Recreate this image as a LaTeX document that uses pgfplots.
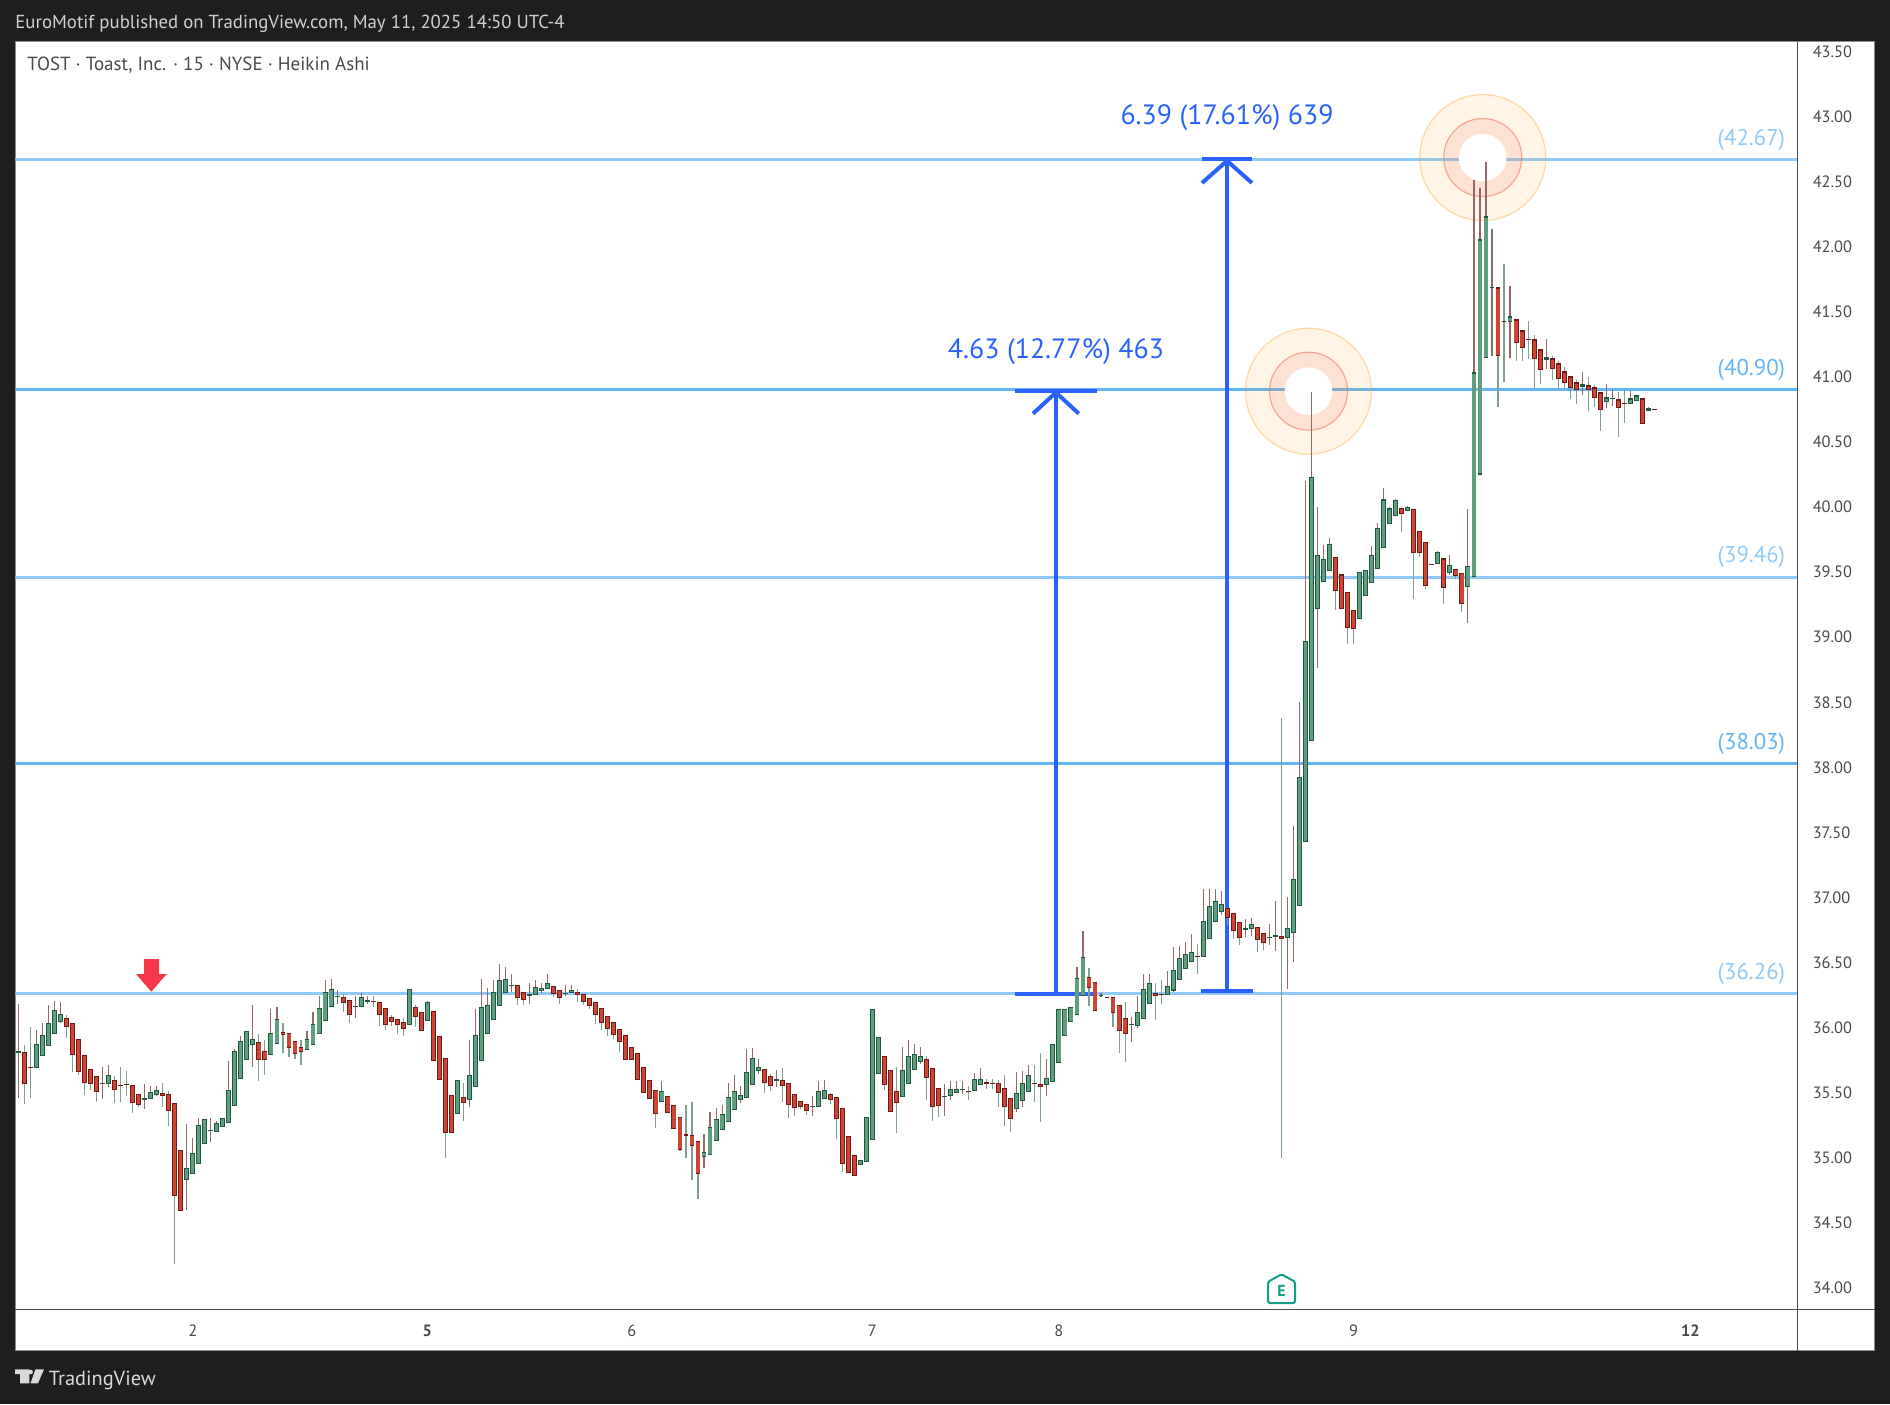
\documentclass[border=0pt]{standalone}
\usepackage{fontspec}
\setmainfont{PT Sans}
\usepackage{pgfplots}
\usepackage{pgfplotstable}
\pgfplotsset{compat=1.18}
\definecolor{bg}{HTML}{1E1E1E}
\definecolor{upF}{HTML}{5F9F7E}
\definecolor{upE}{HTML}{1F5A40}
\definecolor{dnF}{HTML}{CE4535}
\definecolor{dnE}{HTML}{701A14}
\definecolor{wickUp}{HTML}{946A68}
\definecolor{wickDn}{HTML}{7FA08F}
\definecolor{lnA}{HTML}{90CAF9}
\definecolor{lnB}{HTML}{64B5F6}
\definecolor{arrowb}{HTML}{2962FF}
\definecolor{lab}{HTML}{4A4A4A}
\definecolor{ringA}{HTML}{FF9800}
\definecolor{ringB}{HTML}{F0705A}
\definecolor{redsig}{HTML}{F7364A}
\definecolor{teal1}{HTML}{0F9F86}
\pgfplotstableread{
i c b t l h
0 1 35.805 35.822 35.459 36.183
1 0 35.566 35.815 35.413 35.871
2 0 35.688 35.696 35.459 36.009
3 1 35.692 35.876 35.692 35.986
4 1 35.781 35.945 35.781 36.040
5 1 35.861 36.037 35.861 36.171
6 1 35.953 36.137 35.953 36.209
7 1 36.045 36.107 36.035 36.194
8 0 36.007 36.076 35.920 36.101
9 0 35.792 36.037 35.659 36.037
10 0 35.661 35.915 35.633 35.915
11 0 35.577 35.792 35.482 35.792
12 0 35.569 35.684 35.520 35.684
13 0 35.508 35.630 35.428 35.630
14 1 35.565 35.573 35.451 35.702
15 1 35.569 35.638 35.543 35.710
16 0 35.523 35.600 35.420 35.630
17 0 35.555 35.563 35.428 35.702
18 0 35.557 35.565 35.474 35.664
19 0 35.420 35.561 35.344 35.561
20 0 35.405 35.492 35.390 35.492
21 1 35.444 35.462 35.374 35.569
22 1 35.454 35.508 35.454 35.556
23 1 35.485 35.523 35.474 35.556
24 0 35.474 35.500 35.390 35.579
25 0 35.362 35.492 35.244 35.515
26 0 34.709 35.423 34.184 35.423
27 0 34.594 35.062 34.594 35.062
28 1 34.832 34.924 34.599 35.257
29 1 34.878 35.039 34.878 35.149
30 1 34.955 35.254 34.955 35.303
31 1 35.108 35.300 35.108 35.300
32 1 35.204 35.212 35.121 35.303
33 1 35.200 35.269 35.200 35.280
34 1 35.239 35.308 35.239 35.308
35 1 35.269 35.523 35.269 35.748
36 1 35.400 35.822 35.400 35.833
37 1 35.607 35.899 35.607 35.940
38 1 35.753 35.976 35.753 35.976
39 1 35.869 35.915 35.697 36.178
40 0 35.753 35.892 35.589 35.948
41 0 35.753 35.822 35.636 35.909
42 1 35.792 35.961 35.792 36.140
43 1 35.876 36.068 35.876 36.163
44 0 35.945 35.968 35.805 36.040
45 0 35.845 35.961 35.774 35.961
46 0 35.799 35.899 35.758 35.899
47 0 35.815 35.853 35.712 35.909
48 1 35.830 35.915 35.830 35.971
49 1 35.869 36.030 35.869 36.117
50 1 35.953 36.153 35.953 36.247
51 1 36.053 36.276 36.053 36.370
52 1 36.160 36.299 36.160 36.378
53 1 36.233 36.241 36.186 36.293
54 0 36.191 36.237 36.117 36.260
55 0 36.099 36.214 36.040 36.214
56 1 36.156 36.164 36.071 36.247
57 1 36.160 36.237 36.160 36.270
58 1 36.199 36.214 36.186 36.240
59 0 36.196 36.206 36.163 36.247
60 0 36.099 36.199 36.017 36.199
61 0 36.022 36.153 35.979 36.153
62 0 36.045 36.084 36.017 36.101
63 0 36.022 36.068 35.948 36.068
64 0 35.991 36.045 35.940 36.078
65 1 36.022 36.299 36.022 36.299
66 0 36.084 36.160 36.009 36.171
67 0 35.976 36.122 35.976 36.122
68 1 36.053 36.199 36.053 36.209
69 0 35.746 36.130 35.746 36.130
70 0 35.600 35.938 35.600 35.938
71 0 35.193 35.769 34.998 35.769
72 0 35.193 35.485 35.193 35.485
73 1 35.339 35.600 35.339 35.600
74 0 35.423 35.469 35.280 35.579
75 1 35.446 35.638 35.390 35.902
76 1 35.546 35.945 35.546 36.140
77 1 35.746 36.160 35.746 36.378
78 1 35.953 36.176 35.953 36.309
79 1 36.061 36.276 36.061 36.370
80 1 36.168 36.368 36.168 36.493
81 1 36.268 36.375 36.268 36.470
82 1 36.320 36.328 36.278 36.409
83 0 36.229 36.329 36.171 36.329
84 0 36.214 36.276 36.178 36.276
85 1 36.245 36.260 36.186 36.347
86 1 36.253 36.314 36.253 36.363
87 1 36.283 36.306 36.263 36.340
88 1 36.299 36.345 36.299 36.409
89 0 36.260 36.322 36.235 36.322
90 0 36.229 36.291 36.186 36.291
91 1 36.259 36.267 36.247 36.332
92 1 36.268 36.291 36.268 36.332
93 0 36.253 36.276 36.201 36.301
94 0 36.199 36.260 36.171 36.260
95 0 36.168 36.229 36.140 36.229
96 0 36.099 36.199 36.032 36.199
97 0 36.037 36.153 35.986 36.153
98 0 35.991 36.091 35.933 36.091
99 0 35.945 36.045 35.912 36.045
100 0 35.889 35.991 35.810 35.991
101 0 35.753 35.945 35.753 35.945
102 0 35.753 35.853 35.753 35.853
103 0 35.600 35.807 35.600 35.807
104 0 35.500 35.700 35.500 35.700
105 0 35.454 35.600 35.454 35.600
106 0 35.339 35.523 35.229 35.523
107 1 35.431 35.515 35.431 35.587
108 0 35.346 35.477 35.346 35.477
109 0 35.223 35.408 35.223 35.408
110 0 35.062 35.316 35.052 35.316
111 0 35.170 35.185 34.998 35.410
112 0 35.093 35.177 34.829 35.426
113 0 34.878 35.131 34.683 35.131
114 1 35.008 35.047 34.921 35.180
115 1 35.024 35.239 35.024 35.349
116 1 35.131 35.300 35.131 35.380
117 1 35.216 35.339 35.216 35.410
118 1 35.277 35.469 35.277 35.579
119 1 35.369 35.515 35.369 35.633
120 1 35.446 35.485 35.420 35.549
121 1 35.462 35.661 35.462 35.840
122 1 35.561 35.769 35.561 35.848
123 1 35.669 35.700 35.643 35.756
124 0 35.577 35.684 35.497 35.684
125 0 35.554 35.630 35.513 35.641
126 1 35.592 35.607 35.543 35.679
127 0 35.554 35.600 35.428 35.687
128 0 35.408 35.577 35.305 35.577
129 0 35.385 35.492 35.321 35.492
130 0 35.392 35.438 35.374 35.438
131 0 35.362 35.415 35.328 35.415
132 1 35.388 35.396 35.321 35.472
133 1 35.392 35.515 35.392 35.587
134 1 35.454 35.523 35.454 35.602
135 0 35.446 35.492 35.413 35.502
136 0 35.300 35.469 35.144 35.469
137 0 34.955 35.385 34.891 35.385
138 0 34.885 35.170 34.885 35.170
139 0 34.862 35.024 34.862 35.024
140 1 34.947 34.985 34.947 34.985
141 1 34.970 35.316 34.970 35.316
142 1 35.139 36.145 35.139 36.145
143 1 35.646 35.930 35.646 35.930
144 0 35.561 35.784 35.525 35.784
145 0 35.354 35.677 35.354 35.677
146 0 35.423 35.515 35.190 35.700
147 1 35.469 35.677 35.469 35.853
148 1 35.569 35.784 35.569 35.902
149 1 35.677 35.799 35.677 35.876
150 1 35.738 35.784 35.720 35.853
151 0 35.615 35.761 35.444 35.784
152 0 35.392 35.692 35.282 35.692
153 0 35.400 35.538 35.313 35.538
154 1 35.470 35.478 35.321 35.569
155 1 35.477 35.531 35.444 35.587
156 1 35.497 35.531 35.497 35.587
157 1 35.519 35.527 35.490 35.587
158 0 35.509 35.517 35.444 35.556
159 1 35.515 35.607 35.515 35.656
160 1 35.561 35.607 35.561 35.687
161 0 35.566 35.584 35.528 35.607
162 0 35.570 35.578 35.528 35.607
163 0 35.500 35.577 35.390 35.600
164 0 35.392 35.538 35.244 35.638
165 0 35.300 35.462 35.198 35.462
166 1 35.377 35.500 35.351 35.656
167 1 35.438 35.577 35.390 35.669
168 1 35.508 35.638 35.508 35.715
169 0 35.565 35.573 35.428 35.715
170 0 35.546 35.569 35.275 35.802
171 1 35.561 35.615 35.474 35.756
172 1 35.584 35.876 35.584 35.876
173 1 35.730 36.145 35.730 36.145
174 1 35.938 36.145 35.938 36.145
175 1 36.045 36.160 36.045 36.160
176 1 36.099 36.383 36.099 36.470
177 1 36.245 36.544 36.245 36.741
178 0 36.306 36.391 36.165 36.462
179 0 36.130 36.352 36.130 36.352
180 1 36.241 36.249 36.235 36.263
181 0 36.228 36.236 36.228 36.236
182 0 36.114 36.237 36.009 36.237
183 0 35.976 36.176 35.805 36.176
184 0 35.953 36.076 35.735 36.199
185 1 36.018 36.026 35.889 36.086
186 1 36.012 36.122 35.999 36.247
187 1 36.068 36.299 36.068 36.409
188 1 36.183 36.345 36.183 36.416
189 0 36.245 36.268 36.063 36.345
190 0 36.249 36.257 36.186 36.363
191 1 36.253 36.322 36.253 36.432
192 1 36.285 36.444 36.272 36.623
193 1 36.367 36.536 36.367 36.631
194 1 36.452 36.567 36.452 36.662
195 1 36.506 36.582 36.506 36.723
196 0 36.540 36.548 36.411 36.646
197 1 36.544 36.820 36.544 37.069
198 1 36.682 36.936 36.682 37.069
199 1 36.810 36.974 36.810 37.069
200 1 36.889 36.951 36.869 37.053
201 0 36.843 36.920 36.792 36.920
202 0 36.744 36.882 36.680 36.882
203 0 36.690 36.813 36.634 36.813
204 1 36.749 36.767 36.695 36.838
205 1 36.756 36.797 36.708 36.846
206 0 36.672 36.774 36.580 36.774
207 0 36.649 36.728 36.595 36.728
208 1 36.691 36.699 36.633 36.800
209 1 36.697 36.713 36.592 36.976
210 0 36.679 36.705 34.997 38.379
211 1 36.690 36.766 36.295 37.007
212 1 36.726 37.141 36.503 37.553
213 1 36.935 37.926 36.935 38.499
214 1 37.426 38.969 37.426 40.203
215 1 38.201 40.231 38.201 40.882
216 1 39.216 39.630 38.763 40.004
217 1 39.421 39.600 39.421 39.709
218 1 39.507 39.716 39.507 39.764
219 0 39.353 39.617 39.209 39.617
220 0 39.216 39.483 39.216 39.483
221 0 39.068 39.346 38.945 39.346
222 0 39.061 39.209 38.945 39.209
223 1 39.137 39.500 39.137 39.500
224 1 39.315 39.514 39.315 39.514
225 1 39.414 39.630 39.414 39.702
226 1 39.521 39.840 39.521 39.881
227 1 39.682 40.059 39.682 40.148
228 1 39.867 39.990 39.867 40.001
229 1 39.929 40.052 39.929 40.063
230 0 39.946 39.994 39.805 40.001
231 1 39.967 40.001 39.967 40.008
232 0 39.644 39.984 39.291 39.984
233 0 39.644 39.816 39.613 39.816
234 0 39.390 39.730 39.370 39.730
235 0 39.558 39.566 39.558 39.566
236 1 39.562 39.654 39.562 39.665
237 0 39.377 39.606 39.253 39.606
238 1 39.490 39.555 39.480 39.630
239 0 39.469 39.524 39.445 39.524
240 0 39.253 39.493 39.192 39.493
241 1 39.383 39.545 39.106 39.982
242 1 39.460 41.034 39.460 42.512
243 1 40.249 42.056 40.249 42.455
244 1 41.147 42.233 41.147 42.650
245 1 41.683 41.691 41.160 42.133
246 0 41.162 41.687 40.771 41.687
247 0 41.422 41.430 40.960 41.866
248 1 41.424 41.465 41.145 41.698
249 0 41.262 41.442 41.121 41.442
250 0 41.224 41.357 41.121 41.357
251 0 41.284 41.292 41.137 41.429
252 0 41.139 41.288 40.914 41.321
253 0 41.050 41.211 40.945 41.211
254 1 41.132 41.150 41.060 41.290
255 0 41.063 41.142 40.976 41.157
256 0 40.986 41.104 40.899 41.122
257 0 40.955 41.042 40.894 41.073
258 0 40.917 41.004 40.830 41.004
259 0 40.901 40.958 40.791 40.976
260 1 40.924 40.942 40.860 41.037
261 0 40.901 40.935 40.738 40.999
262 0 40.840 40.919 40.768 40.937
263 0 40.748 40.881 40.584 40.881
264 1 40.809 40.842 40.760 40.942
265 1 40.831 40.839 40.776 40.906
266 0 40.763 40.827 40.538 40.883
267 0 40.792 40.800 40.645 40.914
268 1 40.794 40.835 40.794 40.891
269 1 40.817 40.858 40.817 40.858
270 0 40.640 40.835 40.640 40.835
271 1 40.740 40.758 40.740 40.768
272 0 40.746 40.754 40.746 40.754
}\candles
\pgfplotsset{
  wickplot/.style n args={2}{draw=none,mark=none,forget plot,
    error bars/.cd,y dir=both,y explicit,error mark=none,
    error bar style={line width=0.55pt,color=#2}},
  bodyplot/.style n args={2}{draw=none,mark=none,forget plot,
    error bars/.cd,y dir=plus,y explicit,error mark=none,
    error bar style={line width=#1,color=#2}},
}
\begin{document}
\begin{tikzpicture}
\begin{scope}[x=0.5pt,y=-0.5pt]
\fill[bg] (0,0) rectangle (1890,1404);
\path[use as bounding box] (0,0) rectangle (1890,1404);
\fill[white] (15,41.5) rectangle (1874.5,1350.5);
\draw[color=black!45,line width=0.5pt] (15,41.5) rectangle (1874.5,1350.5);
\coordinate (AP) at (15.5,1309.9);
\end{scope}
\begin{axis}[
  at={(AP)},anchor=south west,
  scale only axis,width=890.9pt,height=633.9pt,
  xmin=-0.466,xmax=295.76,ymin=33.832,ymax=43.572,
  axis x line*=bottom,axis y line*=right,
  axis line style={draw=lab,line width=0.5pt,-},
  xtick={29,68,102,142,173,222,278},
  xticklabels={2,\textbf{5},6,7,8,9,\textbf{12}},
  ytick={34,34.5,35,35.5,36,36.5,37,37.5,38,38.5,39,39.5,40,40.5,41,41.5,42,42.5,43,43.5},
  major tick length=0pt,
  tick label style={font=\fontsize{8.2pt}{10pt}\selectfont,text=lab},
  /pgf/number format/assume math mode=true,
  yticklabel style={/pgf/number format/fixed,/pgf/number format/fixed zerofill,/pgf/number format/precision=2,anchor=west,xshift=4.2pt},
  xticklabel style={anchor=center,yshift=-10.5pt},
  clip=true,
]
% horizontal levels
\addplot[lnA,line width=1.5pt,forget plot] coordinates {(-0.466,36.26) (295.76,36.26)};
\addplot[lnB,line width=1.5pt,forget plot] coordinates {(-0.466,38.03) (295.76,38.03)};
\addplot[lnA,line width=1.5pt,forget plot] coordinates {(-0.466,39.46) (295.76,39.46)};
\addplot[lnB,line width=1.5pt,forget plot] coordinates {(-0.466,40.90) (295.76,40.90)};
\addplot[lnA,line width=1.5pt,forget plot] coordinates {(-0.466,42.67) (295.76,42.67)};
% measure arrows
\addplot[arrowb,line width=2pt,forget plot] coordinates {(165.7,36.257) (179.3,36.257)};
\addplot[arrowb,line width=2pt,forget plot] coordinates {(172.5,36.257) (172.5,40.88)};
\addplot[arrowb,line width=2pt,forget plot] coordinates {(165.7,40.895) (179.3,40.895)};
\addplot[arrowb,line width=2pt,forget plot] coordinates {(168.7,40.718) (172.5,40.88) (176.3,40.718)};
\addplot[arrowb,line width=2pt,forget plot] coordinates {(196.6,36.28) (205.3,36.28)};
\addplot[arrowb,line width=2pt,forget plot] coordinates {(200.95,36.28) (200.95,42.66)};
\addplot[arrowb,line width=2pt,forget plot] coordinates {(196.8,42.675) (205.1,42.675)};
\addplot[arrowb,line width=2pt,forget plot] coordinates {(196.8,42.49) (200.95,42.66) (205.1,42.49)};
% target rings (beneath the candles)
\draw[ringA,fill=ringA,fill opacity=0.1,draw opacity=0.33,line width=0.6pt] (axis cs:214.5,40.89) circle[radius=31.5pt];
\draw[ringA,fill=ringA,fill opacity=0.1,draw opacity=0.33,line width=0.6pt] (axis cs:243.46,42.685) circle[radius=31.5pt];
\draw[ringB,fill=ringB,fill opacity=0.13,draw opacity=0.55,line width=0.6pt] (axis cs:214.5,40.89) circle[radius=19.5pt];
\draw[ringB,fill=ringB,fill opacity=0.13,draw opacity=0.55,line width=0.6pt] (axis cs:243.46,42.685) circle[radius=19.5pt];
\fill[white] (axis cs:214.5,40.89) circle[radius=11.9pt];
\fill[white] (axis cs:243.46,42.685) circle[radius=11.9pt];
% wicks
\addplot[wickplot={}{wickUp}] table[x expr={\thisrow{c}==1?\thisrow{i}:nan},y=b,y error plus expr=\thisrow{h}-\thisrow{b},y error minus expr=\thisrow{b}-\thisrow{l}] {\candles};
\addplot[wickplot={}{wickDn}] table[x expr={\thisrow{c}==0?\thisrow{i}:nan},y=b,y error plus expr=\thisrow{h}-\thisrow{b},y error minus expr=\thisrow{b}-\thisrow{l}] {\candles};
% bodies: outline, then fill
\addplot[bodyplot={2.45pt}{upE}] table[x expr={\thisrow{c}==1?\thisrow{i}:nan},y=b,y error plus expr=\thisrow{t}-\thisrow{b}] {\candles};
\addplot[bodyplot={2.45pt}{dnE}] table[x expr={\thisrow{c}==0?\thisrow{i}:nan},y=b,y error plus expr=\thisrow{t}-\thisrow{b}] {\candles};
\addplot[bodyplot={1.6pt}{upF}] table[x expr={\thisrow{c}==1?\thisrow{i}:nan},y expr=\thisrow{b}+0.009,y error plus expr={max(\thisrow{t}-\thisrow{b}-0.018,0)}] {\candles};
\addplot[bodyplot={1.6pt}{dnF}] table[x expr={\thisrow{c}==0?\thisrow{i}:nan},y expr=\thisrow{b}+0.009,y error plus expr={max(\thisrow{t}-\thisrow{b}-0.018,0)}] {\candles};
% level labels
\node[anchor=east,text=lnA,font=\fontsize{11.4pt}{13pt}\selectfont] at (axis cs:294.9,42.67) [yshift=10pt] {(42.67)};
\node[anchor=east,text=lnB,font=\fontsize{11.4pt}{13pt}\selectfont] at (axis cs:294.9,40.90) [yshift=10pt] {(40.90)};
\node[anchor=east,text=lnA,font=\fontsize{11.4pt}{13pt}\selectfont] at (axis cs:294.9,39.46) [yshift=10pt] {(39.46)};
\node[anchor=east,text=lnB,font=\fontsize{11.4pt}{13pt}\selectfont] at (axis cs:294.9,38.03) [yshift=10pt] {(38.03)};
\node[anchor=east,text=lnA,font=\fontsize{11.4pt}{13pt}\selectfont] at (axis cs:294.9,36.26) [yshift=10pt] {(36.26)};
\end{axis}
\begin{scope}[x=0.5pt,y=-0.5pt]
\draw[lab,line width=0.5pt] (1797.3,1309.9)--(1874.5,1309.9);
\draw[lab,line width=0.5pt] (1797.3,1309.9)--(1797.3,1350.5);
\node[anchor=west,inner sep=0,font=\fontsize{9.5pt}{11pt}\selectfont,text=lab] at (27,65.5) {TOST · Toast, Inc. · 15 · NYSE · Heikin Ashi};
\node[anchor=west,inner sep=0,text=white!82!black,font=\fontsize{9.4pt}{11pt}\selectfont] at (15,24) {EuroMotif published on TradingView.com, May 11, 2025 14:50 UTC-4};
\node[anchor=center,text=arrowb,font=\fontsize{13.95pt}{16pt}\selectfont] at (1056,351.5) {4.63 (12.77\%) 463};
\node[anchor=center,text=arrowb,font=\fontsize{13.95pt}{16pt}\selectfont] at (1227,118) {6.39 (17.61\%) 639};
% signal arrow
\fill[redsig] (144,959)--(159,959)--(159,974)--(166.7,974)--(151.3,991.7)--(136,974)--(144,974)--cycle;
% earnings badge
\draw[teal1,line width=1pt,fill=white,rounded corners=0.8pt,line join=round] (1268,1281.7)--(1281.5,1274.3)--(1295,1281.7)--(1295,1303)--(1268,1303)--cycle;
\node[text=teal1,inner sep=0,font=\bfseries\fontsize{8pt}{9pt}\selectfont] at (1281.5,1290.5) {E};
% footer brand
\fill[white!85!black] (15,1369.3)--(29.3,1369.3)--(29.3,1383.3)--(20,1383.3)--(20,1374)--(15,1374)--cycle;
\fill[white!85!black] (30.6,1372) circle[radius=2.3];
\fill[white!85!black] (35.5,1369.3)--(44,1369.3)--(38,1383.3)--(30.5,1383.3)--cycle;
\node[anchor=west,inner sep=0,text=white!85!black,font=\fontsize{10.2pt}{12pt}\selectfont] at (48.5,1380) {TradingView};
\end{scope}
\end{tikzpicture}
\end{document}
